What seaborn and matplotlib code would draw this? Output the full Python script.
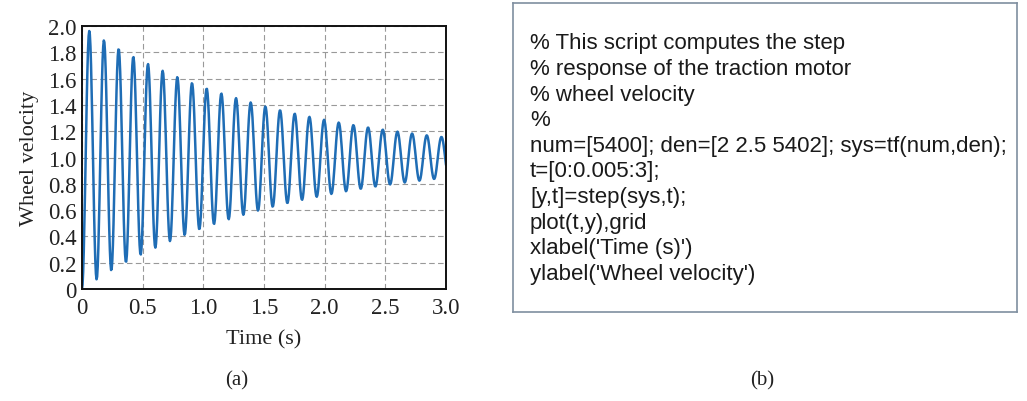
import numpy as np
import pandas as pd
import matplotlib
matplotlib.use("Agg")
import matplotlib.pyplot as plt
import seaborn as sns

# Transfer function and time grid, as written in the listing of panel (b)
num = [5400]
den = [2, 2.5, 5402]
t_start, t_step, t_end = 0.0, 0.005, 3.0

x_ticks = [0, 0.5, 1.0, 1.5, 2.0, 2.5, 3.0]
x_tick_labels = ["0", "0.5", "1.0", "1.5", "2.0", "2.5", "3.0"]
y_ticks = [0, 0.2, 0.4, 0.6, 0.8, 1.0, 1.2, 1.4, 1.6, 1.8, 2.0]
y_tick_labels = ["0", "0.2", "0.4", "0.6", "0.8", "1.0", "1.2", "1.4", "1.6", "1.8", "2.0"]

code_lines = [
    "% This script computes the step",
    "% response of the traction motor",
    "% wheel velocity",
    "%",
    "num=[5400]; den=[2 2.5 5402]; sys=tf(num,den);",
    "t=[0:0.005:3];",
    "[y,t]=step(sys,t);",
    "plot(t,y),grid",
    "xlabel('Time (s)')",
    "ylabel('Wheel velocity')",
]

# step response of the second-order system (what step(sys,t) gives)
t = np.arange(t_start, t_end + t_step / 2, t_step)
a = den[1] / den[0]
b = den[2] / den[0]
k = num[0] / den[0]
wn = np.sqrt(b)
zeta = a / (2 * wn)
sigma = zeta * wn
wd = wn * np.sqrt(1 - zeta ** 2)
y = (k / b) * (1 - np.exp(-sigma * t) * (np.cos(wd * t) + sigma / wd * np.sin(wd * t)))
df = pd.DataFrame({"Time": t, "Velocity": y})

sns.set_style("white")
plt.rcParams["font.family"] = ["Liberation Serif", "DejaVu Serif"]

fig = plt.figure(figsize=(10.27, 4.02), dpi=100)

# -------- (a) step response --------
ax = fig.add_axes([0.0798, 0.2786, 0.3545, 0.6542])
sns.lineplot(data=df, x="Time", y="Velocity", ax=ax, color="#1f6db5", linewidth=1.8)
ax.set_xlim(0, 3.0)
ax.set_ylim(0, 2.0)
ax.set_xticks(x_ticks)
ax.set_xticklabels(x_tick_labels)
ax.set_yticks(y_ticks)
ax.set_yticklabels(y_tick_labels)
ax.tick_params(axis="both", direction="in", length=4, labelsize=16.5, colors="#222222")
ax.tick_params(axis="x", pad=6)
ax.tick_params(axis="y", pad=4)
ax.grid(True, color="#999999", linestyle=(0, (5, 3)), linewidth=0.8)
for s in ax.spines.values():
    s.set_color("#111111")
    s.set_linewidth(1.4)
ax.set_xlabel("Time (s)", fontsize=16, color="#222222", labelpad=8)
ax.set_ylabel("Wheel velocity", fontsize=16, color="#222222", labelpad=6)

fig.text(237 / 1027, 1 - 381 / 402, "(a)", ha="center", va="center", fontsize=15, color="#222222")

# -------- (b) code listing --------
bx = fig.add_axes([513 / 1027, 1 - 313 / 402, (1017 - 513) / 1027, (313 - 4) / 402])
bx.set_xlim(0, 1)
bx.set_ylim(0, 1)
bx.set_xticks([])
bx.set_yticks([])
for s in bx.spines.values():
    s.set_color("#7f8fa0")
    s.set_linewidth(1.2)

line_y0 = 44
line_dy = 25.6
for i, line in enumerate(code_lines):
    yy = 1 - (line_y0 + i * line_dy - 4) / 309
    bx.text(17 / 504, yy, line, ha="left", va="center", fontsize=16,
            family=["Liberation Sans", "DejaVu Sans"], color="#1a1a1a")

fig.text(762 / 1027, 1 - 381 / 402, "(b)", ha="center", va="center", fontsize=15, color="#222222")

fig.savefig("out.png", dpi=100)
plt.close(fig)
